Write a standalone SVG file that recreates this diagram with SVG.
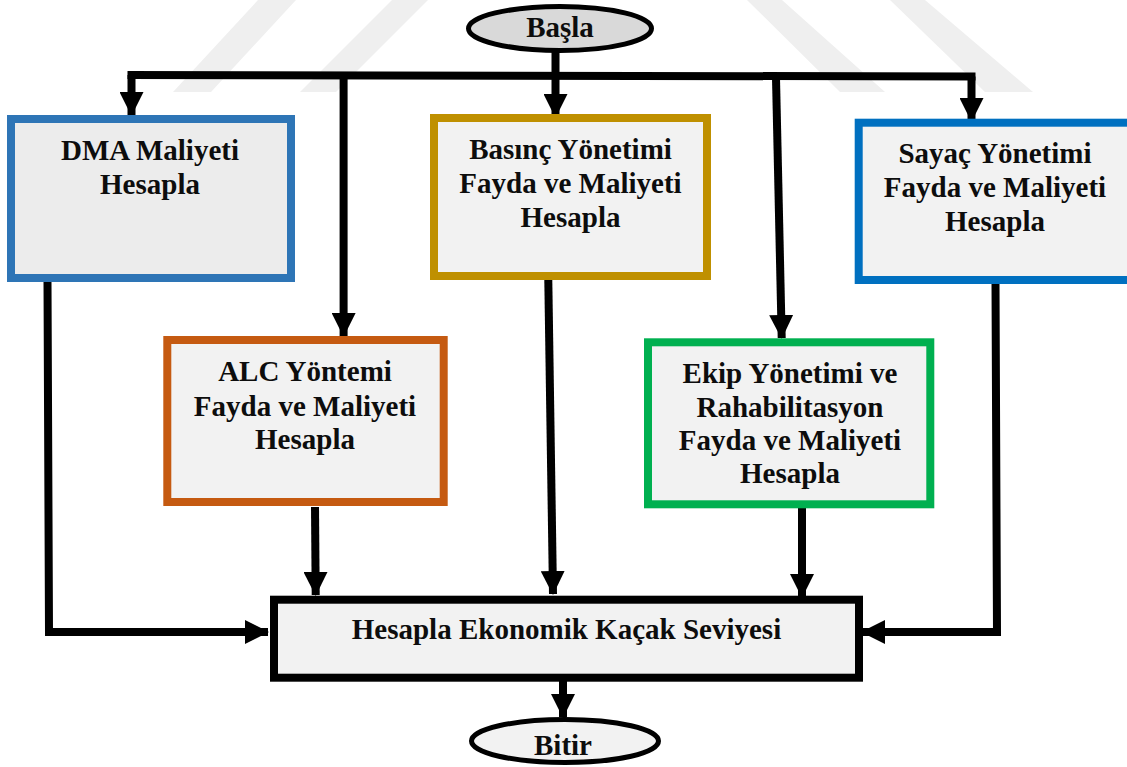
<svg xmlns="http://www.w3.org/2000/svg" width="1127" height="767" viewBox="0 0 1127 767">
  <style>
    .lbl { font-family: "Liberation Serif", "Times New Roman", serif; font-weight: bold; font-size: 29px; fill: #0d0d0d; text-anchor: middle; }
    .box { stroke-width: 8; }
    .term { stroke: #000; stroke-width: 5; }
    .wire { fill: none; stroke: #000; stroke-width: 8; stroke-linejoin: miter; stroke-linecap: butt; }
    .band { fill: #efefef; }
  </style>
  <defs>
    <marker id="head" markerUnits="userSpaceOnUse" viewBox="0 0 24 24" refX="23" refY="12" markerWidth="24" markerHeight="24" orient="auto">
      <path d="M0,0 L24,12 L0,24 Z" fill="#000"/>
    </marker>
  </defs>

  <rect x="0" y="0" width="1127" height="767" fill="#fff"/>

  <!-- faint background bands -->
  <g id="bands">
    <polygon class="band" points="258,0 296,0 211,92 173,92"/>
    <polygon class="band" points="392,0 428,0 336,92 300,92"/>
    <polygon class="band" points="747,0 782,0 885,92 840,92"/>
    <polygon class="band" points="890,0 925,0 1033,92 985,92"/>
  </g>

  <!-- connectors -->
  <g id="connectors">
    <path class="wire" d="M555.5,52 L555.5,76"/>
    <path class="wire" d="M127.5,75 L975.5,76.5" stroke-width="9"/>
    <path class="wire" d="M131.5,75 L131.5,115" marker-end="url(#head)"/>
    <path class="wire" d="M555.5,76 L555.5,117" marker-end="url(#head)"/>
    <path class="wire" d="M971.5,76.5 L971.5,121" marker-end="url(#head)"/>
    <path class="wire" d="M343.6,78 L343.6,336" marker-end="url(#head)"/>
    <path class="wire" d="M776,78 L781.7,338" marker-end="url(#head)"/>
    <path class="wire" d="M47.5,282 L49,632 L268,632" marker-end="url(#head)"/>
    <path class="wire" d="M315,507 L315.7,595" marker-end="url(#head)"/>
    <path class="wire" d="M548.3,280 L553,594" marker-end="url(#head)"/>
    <path class="wire" d="M802,508 L802,597" marker-end="url(#head)"/>
    <path class="wire" d="M995.5,283 L997,632 L862,632" marker-end="url(#head)"/>
    <path class="wire" d="M563,681 L563,717" marker-end="url(#head)"/>
  </g>

  <g id="start">
    <ellipse class="term" cx="560" cy="28.5" rx="91.5" ry="22" fill="#d9d9d9"/>
    <text class="lbl" x="560" y="37">Başla</text>
  </g>

  <g id="dma">
    <rect class="box" x="11" y="119" width="280" height="159" fill="#ececec" stroke="#2e75b6"/>
    <text class="lbl" x="150" y="160">DMA Maliyeti</text>
    <text class="lbl" x="150" y="194">Hesapla</text>
  </g>

  <g id="basinc">
    <rect class="box" x="434" y="118" width="273" height="158" fill="#f2f2f2" stroke="#bf9000"/>
    <text class="lbl" x="570.5" y="159">Basınç Yönetimi</text>
    <text class="lbl" x="570.5" y="193">Fayda ve Maliyeti</text>
    <text class="lbl" x="570.5" y="227">Hesapla</text>
  </g>

  <g id="sayac">
    <rect class="box" x="858.7" y="122.7" width="280" height="157.3" fill="#f2f2f2" stroke="#0070c0"/>
    <text class="lbl" x="995" y="163.3">Sayaç Yönetimi</text>
    <text class="lbl" x="995" y="197.3">Fayda ve Maliyeti</text>
    <text class="lbl" x="995" y="230.7">Hesapla</text>
  </g>

  <g id="alc">
    <rect class="box" x="167.3" y="340" width="276.4" height="162" fill="#f2f2f2" stroke="#c55a11"/>
    <text class="lbl" x="305" y="381">ALC Yöntemi</text>
    <text class="lbl" x="305" y="415.7">Fayda ve Maliyeti</text>
    <text class="lbl" x="305" y="449.3">Hesapla</text>
  </g>

  <g id="ekip">
    <rect class="box" x="648" y="342.3" width="282.3" height="162" fill="#f2f2f2" stroke="#00b050"/>
    <text class="lbl" x="790" y="383.3">Ekip Yönetimi ve</text>
    <text class="lbl" x="790" y="416.7">Rahabilitasyon</text>
    <text class="lbl" x="790" y="450">Fayda ve Maliyeti</text>
    <text class="lbl" x="790" y="483.3">Hesapla</text>
  </g>

  <g id="eks">
    <rect class="box" x="274" y="599.7" width="585" height="78" fill="#f2f2f2" stroke="#000"/>
    <text class="lbl" x="566.5" y="639">Hesapla Ekonomik Kaçak Seviyesi</text>
  </g>

  <g id="end">
    <ellipse class="term" cx="565" cy="741" rx="93.5" ry="21.5" fill="#f2f2f2"/>
    <text class="lbl" x="563" y="755">Bitir</text>
  </g>
</svg>
